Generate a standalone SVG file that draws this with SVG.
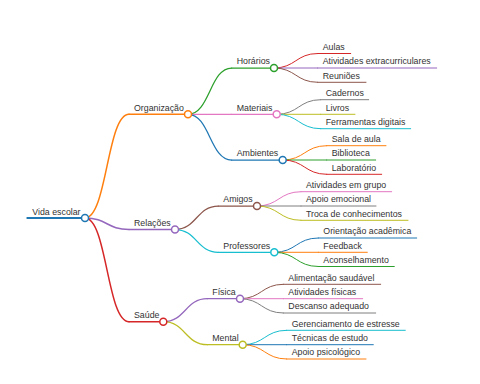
<svg xmlns="http://www.w3.org/2000/svg" width="480" height="384" viewBox="0 0 480 384">
<style>
text{font-family:"Liberation Sans",Arial,sans-serif;font-size:8.8px;fill:#333}
path,line{fill:none;stroke-linecap:round}
circle{fill:#fff;stroke-width:1.5}
.d0{stroke-width:2}.d1{stroke-width:1.5}.d2{stroke-width:1.25}.d3{stroke-width:1}
.c0{stroke:#1f77b4}.c1{stroke:#ff7f0e}.c2{stroke:#2ca02c}.c3{stroke:#d62728}.c4{stroke:#9467bd}
.c5{stroke:#8c564b}.c6{stroke:#e377c2}.c7{stroke:#7f7f7f}.c8{stroke:#bcbd22}.c9{stroke:#17becf}
</style>
<rect width="480" height="384" fill="#fff"/>
<g id="connectors">
<path class="d1 c1" d="M85,218 C107,218 107,114.3 129,114.3"/>
<path class="d1 c4" d="M85,218 C107,218 107,229.5 129,229.5"/>
<path class="d1 c3" d="M85,218 C107,218 107,321.7 129,321.7"/>
<path class="d2 c2" d="M188,114.3 C209.85,114.3 209.85,68 231.7,68"/>
<path class="d2 c6" d="M188,114.3 L231.7,114.3"/>
<path class="d2 c0" d="M188,114.3 C209.85,114.3 209.85,160 231.7,160"/>
<path class="d2 c5" d="M175,229.5 C196.65,229.5 196.65,206 218.3,206"/>
<path class="d2 c9" d="M175,229.5 C196.65,229.5 196.65,252.3 218.3,252.3"/>
<path class="d2 c4" d="M163.3,321.7 C185.3,321.7 185.3,298.7 207.3,298.7"/>
<path class="d2 c8" d="M163.3,321.7 C185.3,321.7 185.3,344.7 207.3,344.7"/>
<path class="d3 c3" d="M274,68 C295.85,68 295.85,53.5 317.7,53.5"/>
<path class="d3 c4" d="M274,68 L317.7,68"/>
<path class="d3 c5" d="M274,68 C295.85,68 295.85,82.3 317.7,82.3"/>
<path class="d3 c7" d="M276.7,114.3 C298.7,114.3 298.7,99.7 320.7,99.7"/>
<path class="d3 c8" d="M276.7,114.3 L320.7,114.3"/>
<path class="d3 c9" d="M276.7,114.3 C298.7,114.3 298.7,128.7 320.7,128.7"/>
<path class="d3 c1" d="M282.7,160 C304.7,160 304.7,145.7 326.7,145.7"/>
<path class="d3 c2" d="M282.7,160 L326.7,160"/>
<path class="d3 c3" d="M282.7,160 C304.7,160 304.7,174.3 326.7,174.3"/>
<path class="d3 c6" d="M257,206 C279,206 279,191.7 301,191.7"/>
<path class="d3 c7" d="M257,206 L301,206"/>
<path class="d3 c8" d="M257,206 C279,206 279,220.3 301,220.3"/>
<path class="d3 c0" d="M274.3,252.3 C296.3,252.3 296.3,238 318.3,238"/>
<path class="d3 c1" d="M274.3,252.3 L318.3,252.3"/>
<path class="d3 c2" d="M274.3,252.3 C296.3,252.3 296.3,266.5 318.3,266.5"/>
<path class="d3 c5" d="M240,298.7 C261.65,298.7 261.65,284.3 283.3,284.3"/>
<path class="d3 c6" d="M240,298.7 L283.3,298.7"/>
<path class="d3 c7" d="M240,298.7 C261.65,298.7 261.65,313 283.3,313"/>
<path class="d3 c9" d="M242.7,344.7 C264.7,344.7 264.7,330.3 286.7,330.3"/>
<path class="d3 c0" d="M242.7,344.7 L286.7,344.7"/>
<path class="d3 c1" d="M242.7,344.7 C264.7,344.7 264.7,359 286.7,359"/>
</g>
<g id="vida-escolar"><line class="d0 c0" x1="27.3" y1="218" x2="85" y2="218"/><circle class="c0" cx="85" cy="218" r="3.5"/><text x="32.3" y="214.5">Vida escolar</text></g>
<g id="organizacao"><line class="d1 c1" x1="129" y1="114.3" x2="188" y2="114.3"/><circle class="c1" cx="188" cy="114.3" r="3.5"/><text x="134" y="110.7">Organização</text></g>
<g id="relacoes"><line class="d1 c4" x1="129" y1="229.5" x2="175" y2="229.5"/><circle class="c4" cx="175" cy="229.5" r="3.5"/><text x="134" y="225.8">Relações</text></g>
<g id="saude"><line class="d1 c3" x1="129" y1="321.7" x2="163.3" y2="321.7"/><circle class="c3" cx="163.3" cy="321.7" r="3.5"/><text x="134" y="318">Saúde</text></g>
<g id="horarios"><line class="d2 c2" x1="231.7" y1="68" x2="274" y2="68"/><circle class="c2" cx="274" cy="68" r="3.5"/><text x="236.7" y="64.3">Horários</text></g>
<g id="materiais"><line class="d2 c6" x1="231.7" y1="114.3" x2="276.7" y2="114.3"/><circle class="c6" cx="276.7" cy="114.3" r="3.5"/><text x="236.7" y="110.6">Materiais</text></g>
<g id="ambientes"><line class="d2 c0" x1="231.7" y1="160" x2="282.7" y2="160"/><circle class="c0" cx="282.7" cy="160" r="3.5"/><text x="236.7" y="156.3">Ambientes</text></g>
<g id="amigos"><line class="d2 c5" x1="218.3" y1="206" x2="257" y2="206"/><circle class="c5" cx="257" cy="206" r="3.5"/><text x="223.3" y="202.3">Amigos</text></g>
<g id="professores"><line class="d2 c9" x1="218.3" y1="252.3" x2="274.3" y2="252.3"/><circle class="c9" cx="274.3" cy="252.3" r="3.5"/><text x="223.3" y="248.6">Professores</text></g>
<g id="fisica"><line class="d2 c4" x1="207.3" y1="298.7" x2="240" y2="298.7"/><circle class="c4" cx="240" cy="298.7" r="3.5"/><text x="212.3" y="295">Física</text></g>
<g id="mental"><line class="d2 c8" x1="207.3" y1="344.7" x2="242.7" y2="344.7"/><circle class="c8" cx="242.7" cy="344.7" r="3.5"/><text x="212.3" y="341">Mental</text></g>
<g id="aulas"><line class="d3 c3" x1="317.7" y1="53.5" x2="350.7" y2="53.5"/><text x="322.7" y="49.8">Aulas</text></g>
<g id="atividades-extracurriculares"><line class="d3 c4" x1="317.7" y1="68" x2="436.7" y2="68"/><text x="322.7" y="64.3">Atividades extracurriculares</text></g>
<g id="reunioes"><line class="d3 c5" x1="317.7" y1="82.3" x2="366" y2="82.3"/><text x="322.7" y="78.6">Reuniões</text></g>
<g id="cadernos"><line class="d3 c7" x1="320.7" y1="99.7" x2="368.7" y2="99.7"/><text x="325.7" y="96">Cadernos</text></g>
<g id="livros"><line class="d3 c8" x1="320.7" y1="114.3" x2="355" y2="114.3"/><text x="325.7" y="110.6">Livros</text></g>
<g id="ferramentas-digitais"><line class="d3 c9" x1="320.7" y1="128.7" x2="410.7" y2="128.7"/><text x="325.7" y="125">Ferramentas digitais</text></g>
<g id="sala-de-aula"><line class="d3 c1" x1="326.7" y1="145.7" x2="386" y2="145.7"/><text x="331.7" y="142">Sala de aula</text></g>
<g id="biblioteca"><line class="d3 c2" x1="326.7" y1="160" x2="375.7" y2="160"/><text x="331.7" y="156.3">Biblioteca</text></g>
<g id="laboratorio"><line class="d3 c3" x1="326.7" y1="174.3" x2="381.7" y2="174.3"/><text x="331.7" y="170.6">Laboratório</text></g>
<g id="atividades-em-grupo"><line class="d3 c6" x1="301" y1="191.7" x2="391.7" y2="191.7"/><text x="306" y="188">Atividades em grupo</text></g>
<g id="apoio-emocional"><line class="d3 c7" x1="301" y1="206" x2="376" y2="206"/><text x="306" y="202.3">Apoio emocional</text></g>
<g id="troca-de-conhecimentos"><line class="d3 c8" x1="301" y1="220.3" x2="408" y2="220.3"/><text x="306" y="216.6">Troca de conhecimentos</text></g>
<g id="orientacao-academica"><line class="d3 c0" x1="318.3" y1="238" x2="416.7" y2="238"/><text x="323.3" y="234.3">Orientação acadêmica</text></g>
<g id="feedback"><line class="d3 c1" x1="318.3" y1="252.3" x2="367.3" y2="252.3"/><text x="323.3" y="248.6">Feedback</text></g>
<g id="aconselhamento"><line class="d3 c2" x1="318.3" y1="266.5" x2="394.3" y2="266.5"/><text x="323.3" y="262.8">Aconselhamento</text></g>
<g id="alimentacao-saudavel"><line class="d3 c5" x1="283.3" y1="284.3" x2="380.7" y2="284.3"/><text x="288.3" y="280.6">Alimentação saudável</text></g>
<g id="atividades-fisicas"><line class="d3 c6" x1="283.3" y1="298.7" x2="362.7" y2="298.7"/><text x="288.3" y="295">Atividades físicas</text></g>
<g id="descanso-adequado"><line class="d3 c7" x1="283.3" y1="313" x2="375.7" y2="313"/><text x="288.3" y="309.3">Descanso adequado</text></g>
<g id="gerenciamento-de-estresse"><line class="d3 c9" x1="286.7" y1="330.3" x2="405.3" y2="330.3"/><text x="291.7" y="326.6">Gerenciamento de estresse</text></g>
<g id="tecnicas-de-estudo"><line class="d3 c0" x1="286.7" y1="344.7" x2="373.3" y2="344.7"/><text x="291.7" y="341">Técnicas de estudo</text></g>
<g id="apoio-psicologico"><line class="d3 c1" x1="286.7" y1="359" x2="366" y2="359"/><text x="291.7" y="355.3">Apoio psicológico</text></g>
</svg>
